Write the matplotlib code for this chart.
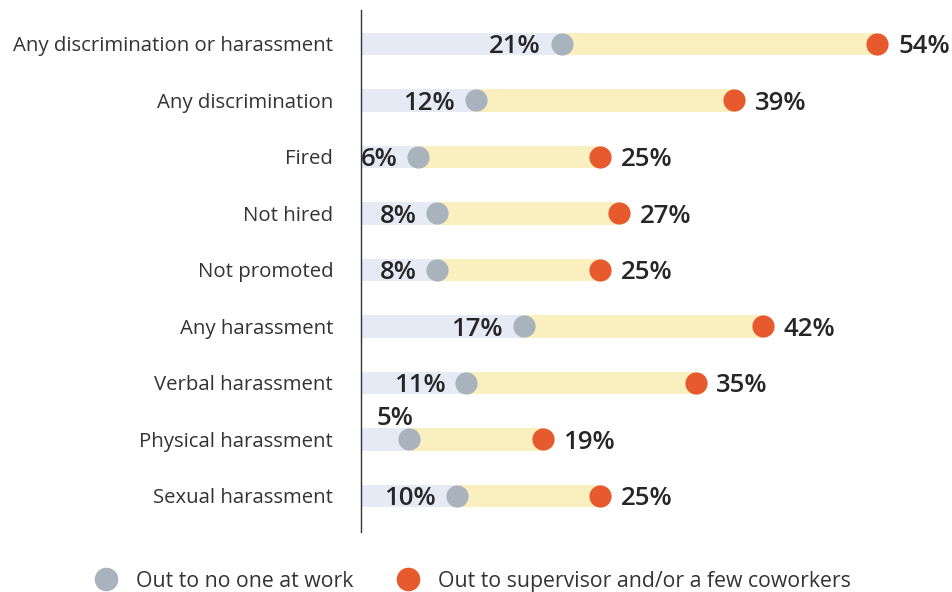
import matplotlib.pyplot as plt
from matplotlib.lines import Line2D

plt.rcParams['font.family'] = ['Open Sans', 'DejaVu Sans']

# data
categories = ['Any discrimination or harassment', 'Any discrimination', 'Fired',
              'Not hired', 'Not promoted', 'Any harassment', 'Verbal harassment',
              'Physical harassment', 'Sexual harassment']
out_no_one = [21, 12, 6, 8, 8, 17, 11, 5, 10]
out_supervisor = [54, 39, 25, 27, 25, 42, 35, 19, 25]

grey_bar = '#e6eaf4'
yellow_bar = '#f9efbf'
grey_dot = '#a9b3bd'
orange_dot = '#e65a2e'
txt = '#262626'

fig = plt.figure(figsize=(9.53, 5.92), dpi=100)
ax = fig.add_axes([361 / 953, 60 / 592, 590 / 953, 522 / 592])

ypos = list(range(len(categories)))
ax.barh(ypos, out_no_one, height=0.4, color=grey_bar, zorder=1)
ax.barh(ypos, [s - n for s, n in zip(out_supervisor, out_no_one)], left=out_no_one,
        height=0.4, color=yellow_bar, zorder=1)
ax.plot(out_no_one, ypos, 'o', ms=16, color=grey_dot, mec='none', zorder=3)
ax.plot(out_supervisor, ypos, 'o', ms=16, color=orange_dot, mec='none', zorder=3)

for y, n, s in zip(ypos, out_no_one, out_supervisor):
    if n < 6:
        # not enough room left of the dot, put it above
        ax.annotate(f'{n}%', (n, y), xytext=(-10, 10), textcoords='offset points',
                    ha='center', va='baseline', fontsize=18.5, fontweight='semibold', color=txt)
    else:
        ax.annotate(f'{n}%', (n, y), xytext=(-15, 0), textcoords='offset points',
                    ha='right', va='center_baseline', fontsize=18.5, fontweight='semibold', color=txt)
    ax.annotate(f'{s}%', (s, y), xytext=(15, 0), textcoords='offset points',
                ha='left', va='center_baseline', fontsize=18.5, fontweight='semibold', color=txt)

ax.set_xlim(0, 590 / 9.56)
ax.set_ylim(8.64, -0.6)
ax.set_yticks(ypos)
ax.set_yticklabels(categories, fontsize=14.7, color='#333333')
ax.tick_params(axis='y', length=0, pad=20)
ax.set_xticks([])
for side in ['top', 'right', 'bottom']:
    ax.spines[side].set_visible(False)
ax.spines['left'].set_color('#333333')
ax.spines['left'].set_linewidth(1)

handles = [Line2D([], [], marker='o', ls='none', ms=17, color=grey_dot, mec='none'),
           Line2D([], [], marker='o', ls='none', ms=17, color=orange_dot, mec='none')]
fig.legend(handles, ['Out to no one at work', 'Out to supervisor and/or a few coworkers'],
           loc='center', bbox_to_anchor=(0.491, 0.018), ncol=2, frameon=False,
           fontsize=15.3, labelcolor='#333333', columnspacing=1.6, handletextpad=0.4)

fig.savefig('out.png', dpi=100)
